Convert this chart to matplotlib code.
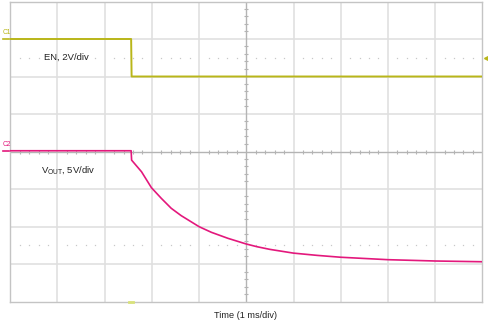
import matplotlib
matplotlib.use("Agg")
import matplotlib.pyplot as plt
import numpy as np

plt.rcParams['font.family'] = ['Liberation Sans', 'DejaVu Sans']
plt.rcParams['mathtext.fontset'] = 'custom'
plt.rcParams['mathtext.rm'] = 'Liberation Sans'
plt.rcParams['mathtext.it'] = 'Liberation Sans'

# ---- data (time in ms, amplitude in screen divisions, 0 = centre line) ----
en_time = [0.0, 2.56, 2.57, 10.0]
en_div = [3.0, 3.0, 2.0, 2.0]

vout_time = [0.0, 2.56, 2.57, 2.78, 2.99, 3.2, 3.41, 3.62, 4.0, 4.26, 4.61,
             5.0, 5.23, 5.5, 6.0, 6.5, 7.0, 8.0, 9.0, 10.0]
vout_div = [0.02, 0.02, -0.23, -0.54, -0.965, -1.25, -1.515, -1.71, -2.005,
            -2.155, -2.315, -2.467, -2.54, -2.61, -2.71, -2.77, -2.82, -2.885,
            -2.92, -2.94]

en_label = "EN, 2V/div"
vout_label = r"V$_{\mathrm{OUT}}$, 5V/div"
x_label = "Time (1 ms/div)"
trigger_time = 2.56
trigger_level = 2.5

EN_COLOR = '#b9b619'
VOUT_COLOR = '#e3187c'
GRID = '#e0e0e0'
AXC = '#b4b4b4'

W, H = 489, 323
fig = plt.figure(figsize=(W / 100, H / 100), dpi=100)
left, right, top, bottom = 10.3, 482.3, 1.5, 301.5
ax = fig.add_axes([left / W, 1 - bottom / H, (right - left) / W, (bottom - top) / H])
ax.set_xlim(0, 10)
ax.set_ylim(-4, 4)
ax.set_xticks([])
ax.set_yticks([])
for s in ax.spines.values():
    s.set_color('#c4c4c4')
    s.set_linewidth(1.0)

# grid
for gx in range(1, 10):
    if gx != 5:
        ax.axvline(gx, color=GRID, lw=1.2, zorder=1)
for gy in range(-3, 4):
    if gy != 0:
        ax.axhline(gy, color=GRID, lw=1.2, zorder=1)
ax.axvline(5, color=AXC, lw=1.0, zorder=1.5)
ax.axhline(0, color=AXC, lw=1.0, zorder=1.5)

# minor ticks on centre axes
mx = np.arange(0.2, 10, 0.2)
mx = mx[np.abs(mx - np.round(mx)) > 1e-6]
ax.plot(mx, np.zeros_like(mx), linestyle='none', marker='|', markersize=3.5,
        color=AXC, mew=0.8, zorder=1.5)
my = np.arange(-3.8, 4, 0.2)
my = my[np.abs(my - np.round(my)) > 1e-6]
ax.plot(np.full_like(my, 5), my, linestyle='none', marker='_', markersize=3.5,
        color=AXC, mew=0.8, zorder=1.5)

# dotted lines
for yy in (2.5, -2.5):
    ax.plot(mx, np.full_like(mx, yy), linestyle='none', marker='s', markersize=0.9,
            color='#c8c8c8', mew=0, zorder=1.2)

# traces
ax.plot(en_time, en_div, color=EN_COLOR, lw=1.4, zorder=3, solid_joinstyle='round')
ax.plot(vout_time, vout_div, color=VOUT_COLOR, lw=1.2, zorder=3, solid_joinstyle='round')

# channel markers on left
ax.plot([-0.16, 0.0], [en_div[0], en_div[0]], color=EN_COLOR, lw=1.2, clip_on=False)
ax.plot([-0.16, 0.0], [vout_div[0], vout_div[0]], color=VOUT_COLOR, lw=1.2, clip_on=False)
ax.text(-0.17, en_div[0] + 0.08, 'C1', color=EN_COLOR, fontsize=4.8, ha='left',
        va='bottom')
ax.text(-0.17, vout_div[0] + 0.08, 'C2', color=VOUT_COLOR, fontsize=4.8, ha='left',
        va='bottom')

# trigger level marker (right) and trigger position marker (bottom)
ax.plot([10.1], [trigger_level], marker='<', markersize=4.5, color=EN_COLOR,
        clip_on=False, zorder=4)
ax.plot([trigger_time - 0.04, trigger_time + 0.04], [-4, -4], color='#d9e27a',
        lw=2, clip_on=False, zorder=4)

# labels
ax.text(0.71, 2.5, en_label, fontsize=6.8, color='#222222', ha='left', va='center')
ax.text(0.65, -0.5, vout_label, fontsize=6.8, color='#222222', ha='left', va='center')
fig.text(246 / W, 1 - 316 / H, x_label, fontsize=6.6, color='#222222',
         ha='center', va='center')

fig.savefig('out.png', dpi=100, facecolor='white')
